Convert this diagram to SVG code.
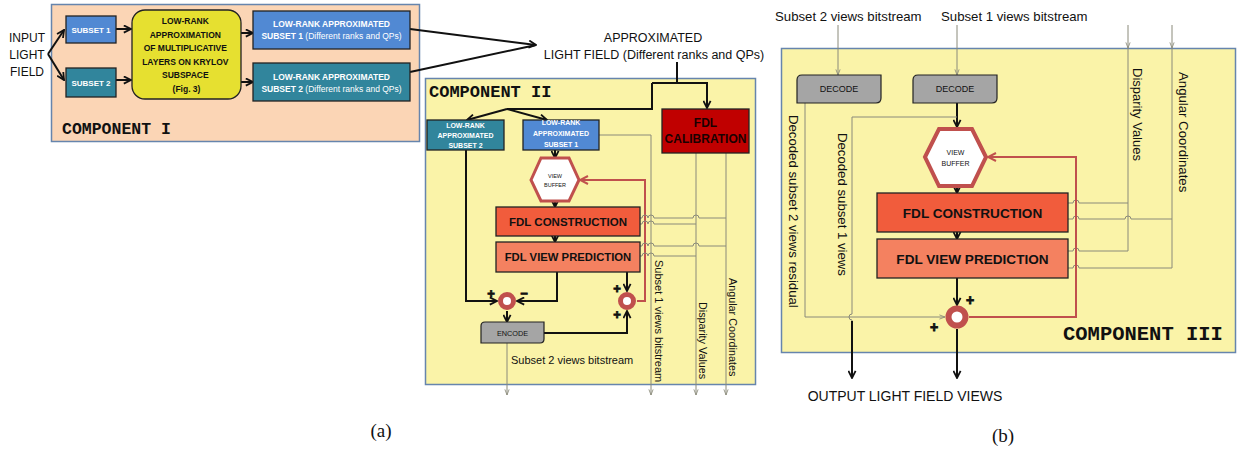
<svg xmlns="http://www.w3.org/2000/svg" width="1239" height="449" viewBox="0 0 1239 449">
<style>
text{font-family:"Liberation Sans",Arial,sans-serif;fill:#111}
.b{font-weight:bold}
.w{fill:#fff;font-weight:bold}
.comp{font-family:"Liberation Mono","Courier New",monospace;font-weight:bold;fill:#111}
.box{stroke:#222;stroke-width:1.3}
.thick{stroke:#111;stroke-width:2;fill:none}
.thin{stroke:#8a8a7a;stroke-width:1;fill:none}
.red{stroke:#c0504d;stroke-width:2;fill:none}
.ring{fill:#fff;stroke:#c0504d}
.sign{font-weight:bold;fill:#111;stroke:#111;stroke-width:0.8}
.cap{font-family:"Liberation Serif","Times New Roman",serif;font-size:19px}
</style>
<defs>
<marker id="ab" viewBox="0 0 10 10" refX="9" refY="5" markerWidth="9" markerHeight="9" markerUnits="userSpaceOnUse" orient="auto"><path d="M1,1 L9,5 L1,9" fill="none" stroke="#111" stroke-width="2"/></marker>
<marker id="ar" viewBox="0 0 10 10" refX="9" refY="5" markerWidth="10" markerHeight="10" markerUnits="userSpaceOnUse" orient="auto"><path d="M1,1 L9,5 L1,9" fill="none" stroke="#c0504d" stroke-width="2"/></marker>
<marker id="ag" viewBox="0 0 10 10" refX="9" refY="5" markerWidth="7" markerHeight="7" markerUnits="userSpaceOnUse" orient="auto"><path d="M1,2 L9,5 L1,8" fill="none" stroke="#8a8a7a" stroke-width="1.2"/></marker>
</defs>

<!-- containers -->
<g id="component-1">
<rect x="51.5" y="4.5" width="368" height="137" fill="#fbd5b5" stroke="#6685ad" stroke-width="1.5"/>
<text class="comp" x="62" y="134" font-size="16.5">COMPONENT I</text>
</g>
<g id="component-2">
<rect x="425.5" y="78.5" width="330" height="306" fill="#faf3a8" stroke="#6685ad" stroke-width="1.5"/>
<text class="comp" x="429" y="97" font-size="17">COMPONENT II</text>
</g>
<g id="component-3">
<rect x="781.5" y="48.5" width="454" height="304" fill="#faf3a8" stroke="#6685ad" stroke-width="1.5"/>
<text class="comp" x="1063" y="340" font-size="20.5">COMPONENT III</text>
</g>

<!-- connectors -->
<g id="connectors">
<!-- Component I -->
<path class="thick" d="M48,54 L64,30" marker-end="url(#ab)"/>
<path class="thick" d="M48,54 L64,80" marker-end="url(#ab)"/>
<path class="thick" d="M116,29 H131" marker-end="url(#ab)"/>
<path class="thick" d="M116,80 H131" marker-end="url(#ab)"/>
<path class="thick" d="M241,33 H253" marker-end="url(#ab)"/>
<path class="thick" d="M241,82 H253" marker-end="url(#ab)"/>
<path class="thick" d="M410,29 L536,45" marker-end="url(#ab)"/>
<path class="thick" d="M410,72 L536,45"/>
<!-- Component II feed -->
<path class="thick" d="M677,62 V83 M652,83 H707 V108" marker-end="url(#ab)"/>
<path class="thick" d="M652,83 V109 H507"/>
<path class="thick" d="M507,109 L467,120" marker-end="url(#ab)"/>
<path class="thick" d="M507,109 L547,120" marker-end="url(#ab)"/>
<path class="thick" d="M555,150 V158" marker-end="url(#ab)"/>
<path class="thick" d="M555,201 V207" marker-end="url(#ab)"/>
<path class="thick" d="M555,236 V242" marker-end="url(#ab)"/>
<path class="thick" d="M466,150 V301 H497" marker-end="url(#ab)"/>
<path class="thick" d="M557,272 V301 H517" marker-end="url(#ab)"/>
<path class="thick" d="M507,311 V322" marker-end="url(#ab)"/>
<path class="thick" d="M544,333 H627 V311" marker-end="url(#ab)"/>
<path class="thick" d="M627,272 V291" marker-end="url(#ab)"/>
<path class="red" d="M637,301 H645 V180 H580" marker-end="url(#ar)"/>
<!-- Component II thin -->
<path class="thin" d="M507,343 V395" marker-end="url(#ag)"/>
<path class="thin" d="M599,135 H651 V395" marker-end="url(#ag)"/>
<path class="thin" d="M696,153 V395" marker-end="url(#ag)"/>
<path class="thin" d="M726,153 V395" marker-end="url(#ag)"/>
<path class="thin" d="M640,218 H642 a3,3 0 0 1 6,0 a3,3 0 0 1 6,0 H693 a3,3 0 0 1 6,0 H726"/>
<path class="thin" d="M640,224 H642 a3,3 0 0 1 6,0 a3,3 0 0 1 6,0 H696"/>
<path class="thin" d="M640,246 H642 a3,3 0 0 1 6,0 a3,3 0 0 1 6,0 H693 a3,3 0 0 1 6,0 H726"/>
<path class="thin" d="M640,256 H642 a3,3 0 0 1 6,0 a3,3 0 0 1 6,0 H696"/>
<!-- Component III -->
<path class="thin" d="M838,25 V75" marker-end="url(#ag)"/>
<path class="thin" d="M957,25 V75" marker-end="url(#ag)"/>
<path class="thin" d="M1128,25 V48" marker-end="url(#ag)"/>
<path class="thin" d="M1172,25 V48" marker-end="url(#ag)"/>
<path class="thin" d="M1128,48 V251"/>
<path class="thin" d="M1172,48 V268"/>
<path class="thin" d="M1068,203 H1073 a3,3 0 0 1 6,0 H1128"/>
<path class="thin" d="M1068,219 H1073 a3,3 0 0 1 6,0 H1125 a3,3 0 0 1 6,0 H1172"/>
<path class="thin" d="M1068,251 H1073 a3,3 0 0 1 6,0 H1128"/>
<path class="thin" d="M1068,268 H1073 a3,3 0 0 1 6,0 H1172"/>
<path class="thick" d="M957,103 V127" marker-end="url(#ab)"/>
<path class="thick" d="M957,186 V193" marker-end="url(#ab)"/>
<path class="thick" d="M957,232 V239" marker-end="url(#ab)"/>
<path class="thick" d="M957,278 V305" marker-end="url(#ab)"/>
<path class="thick" d="M957,329 V378" marker-end="url(#ab)"/>
<path class="thin" d="M805,103 V317 H945" marker-end="url(#ag)"/>
<path class="thin" d="M957,117 H852 V314 a3,3 0 0 0 0,6 V322"/>
<path class="thick" d="M852,321 V378" marker-end="url(#ab)"/>
<path class="red" d="M969,317 H1076 V157 H988" marker-end="url(#ar)"/>
</g>

<!-- Component I nodes -->
<g id="input-light-field">
<text x="27" y="42" font-size="12" text-anchor="middle">INPUT</text>
<text x="27" y="59" font-size="12" text-anchor="middle">LIGHT</text>
<text x="27" y="76" font-size="12" text-anchor="middle">FIELD</text>
</g>
<g id="subset1">
<rect class="box" x="66" y="16" width="50" height="27" fill="#5189d3"/>
<text class="w" x="91" y="32.5" font-size="8" text-anchor="middle">SUBSET 1</text>
</g>
<g id="subset2">
<rect class="box" x="66" y="68" width="50" height="29" fill="#31859c"/>
<text class="w" x="91" y="85.5" font-size="8" text-anchor="middle">SUBSET 2</text>
</g>
<g id="krylov">
<rect x="132" y="10" width="109" height="89" rx="13" fill="#e6e030" stroke="#222" stroke-width="1.3"/>
<text class="b" font-size="8.5" text-anchor="middle">
<tspan x="186.5" y="24">LOW-RANK</tspan>
<tspan x="186.5" y="38">APPROXIMATION</tspan>
<tspan x="186.5" y="51">OF MULTIPLICATIVE</tspan>
<tspan x="186.5" y="65">LAYERS ON KRYLOV</tspan>
<tspan x="186.5" y="78">SUBSPACE</tspan>
<tspan x="186.5" y="92">(Fig. 3)</tspan>
</text>
</g>
<g id="lr-subset1">
<rect class="box" x="253" y="11" width="157" height="38" fill="#5189d3"/>
<text class="w" x="331.5" y="27" font-size="8.5" text-anchor="middle">LOW-RANK APPROXIMATED</text>
<text x="331.5" y="38.5" font-size="8.5" text-anchor="middle" fill="#fff" style="fill:#fff"><tspan font-weight="bold">SUBSET 1</tspan> (Different ranks and QPs)</text>
</g>
<g id="lr-subset2">
<rect class="box" x="253" y="63" width="157" height="38" fill="#31859c"/>
<text class="w" x="331.5" y="80" font-size="8.5" text-anchor="middle">LOW-RANK APPROXIMATED</text>
<text x="331.5" y="91.5" font-size="8.5" text-anchor="middle" style="fill:#fff"><tspan font-weight="bold">SUBSET 2</tspan> (Different ranks and QPs)</text>
</g>
<g id="approximated-lf">
<text x="653" y="42" font-size="12.5" text-anchor="middle">APPROXIMATED</text>
<text x="654" y="59" font-size="12.5" text-anchor="middle">LIGHT FIELD (Different ranks and QPs)</text>
</g>

<!-- Component II nodes -->
<g id="c2-lr-subset2">
<rect class="box" x="427" y="120" width="77" height="30" fill="#31859c"/>
<text class="w" font-size="7" text-anchor="middle"><tspan x="465.5" y="128">LOW-RANK</tspan><tspan x="465.5" y="138">APPROXIMATED</tspan><tspan x="465.5" y="148">SUBSET 2</tspan></text>
</g>
<g id="c2-lr-subset1">
<rect class="box" x="523" y="120" width="76" height="30" fill="#5189d3"/>
<text class="w" font-size="7" text-anchor="middle"><tspan x="561" y="125">LOW-RANK</tspan><tspan x="561" y="136">APPROXIMATED</tspan><tspan x="561" y="147">SUBSET 1</tspan></text>
</g>
<g id="fdl-calibration">
<rect class="box" x="662" y="109" width="87" height="44" fill="#c00000"/>
<text class="b" font-size="12" text-anchor="middle" style="fill:#1a0000"><tspan x="705.5" y="127">FDL</tspan><tspan x="705.5" y="143">CALIBRATION</tspan></text>
</g>
<g id="c2-view-buffer">
<polygon points="531,180 541,158 569,158 579,180 569,201 541,201" fill="#fff" stroke="#c0504d" stroke-width="3"/>
<text font-size="5.5" text-anchor="middle"><tspan x="555" y="178">VIEW</tspan><tspan x="555" y="187">BUFFER</tspan></text>
</g>
<g id="c2-fdl-construction">
<rect class="box" x="496" y="207" width="144" height="29" fill="#f15c3c"/>
<text class="b" x="568" y="226" font-size="11.5" text-anchor="middle">FDL CONSTRUCTION</text>
</g>
<g id="c2-fdl-view-prediction">
<rect class="box" x="496" y="242" width="144" height="30" fill="#f48160"/>
<text class="b" x="568" y="261" font-size="11.3" text-anchor="middle">FDL VIEW PREDICTION</text>
</g>
<g id="c2-sum-residual">
<circle class="ring" cx="507" cy="301" r="6.5" stroke-width="5"/>
<text class="sign" x="491" y="298" font-size="13" text-anchor="middle">+</text>
<text class="sign" x="524" y="297" font-size="13" text-anchor="middle">–</text>
</g>
<g id="c2-sum-recon">
<circle class="ring" cx="627" cy="301" r="6.5" stroke-width="5"/>
<text class="sign" x="617" y="293" font-size="13" text-anchor="middle">+</text>
<text class="sign" x="617" y="319" font-size="13" text-anchor="middle">+</text>
</g>
<g id="encode">
<path d="M485,322 H544 V339 Q544,343 540,343 H481 V326 Q481,322 485,322 Z" fill="#a5a5a5" stroke="#222" stroke-width="1.2"/>
<text x="512.5" y="335.5" font-size="7.3" text-anchor="middle">ENCODE</text>
</g>
<g id="c2-labels">
<text x="511" y="364" font-size="11">Subset 2 views bitstream</text>
<text transform="translate(655,260) rotate(90)" font-size="11">Subset 1 views bitstream</text>
<text transform="translate(699,302) rotate(90)" font-size="10.8">Disparity Values</text>
<text transform="translate(729,278) rotate(90)" font-size="10.8">Angular Coordinates</text>
</g>

<!-- Component III nodes -->
<g id="c3-top-labels">
<text x="775" y="21" font-size="13.2">Subset 2 views bitstream</text>
<text x="941" y="21" font-size="13.2">Subset 1 views bitstream</text>
</g>
<g id="decode-subset2">
<path d="M802,75 H881 V98 Q881,103 876,103 H797 V80 Q797,75 802,75 Z" fill="#a5a5a5" stroke="#222" stroke-width="1.2"/>
<text x="839" y="92" font-size="9" text-anchor="middle">DECODE</text>
</g>
<g id="decode-subset1">
<path d="M918,75 H997 V98 Q997,103 992,103 H913 V80 Q913,75 918,75 Z" fill="#a5a5a5" stroke="#222" stroke-width="1.2"/>
<text x="955" y="92" font-size="9" text-anchor="middle">DECODE</text>
</g>
<g id="c3-view-buffer">
<polygon points="925,157 939,129 972,129 986,157 972,186 939,186" fill="#fff" stroke="#c0504d" stroke-width="4"/>
<text font-size="7" text-anchor="middle"><tspan x="955.5" y="155">VIEW</tspan><tspan x="955.5" y="166">BUFFER</tspan></text>
</g>
<g id="c3-fdl-construction">
<rect class="box" x="877" y="193" width="191" height="39" fill="#f15c3c"/>
<text class="b" x="972.5" y="217.5" font-size="13.6" text-anchor="middle">FDL CONSTRUCTION</text>
</g>
<g id="c3-fdl-view-prediction">
<rect class="box" x="877" y="239" width="191" height="39" fill="#f48160"/>
<text class="b" x="972.5" y="263.5" font-size="13.6" text-anchor="middle">FDL VIEW PREDICTION</text>
</g>
<g id="c3-sum">
<circle class="ring" cx="957" cy="317" r="8.5" stroke-width="6"/>
<text class="sign" x="970" y="305" font-size="14" text-anchor="middle">+</text>
<text class="sign" x="934" y="332" font-size="14" text-anchor="middle">+</text>
</g>
<g id="c3-labels">
<text transform="translate(789,115) rotate(90)" font-size="13.2">Decoded subset  2  views residual</text>
<text transform="translate(838,133) rotate(90)" font-size="13.2">Decoded subset  1  views</text>
<text transform="translate(1133,68) rotate(90)" font-size="13">Disparity Values</text>
<text transform="translate(1179,72) rotate(90)" font-size="13.2">Angular Coordinates</text>
<text x="905" y="401" font-size="14" text-anchor="middle">OUTPUT LIGHT FIELD VIEWS</text>
</g>

<g id="captions">
<text class="cap" x="381" y="437" text-anchor="middle">(a)</text>
<text class="cap" x="1003" y="442" text-anchor="middle">(b)</text>
</g>
</svg>
